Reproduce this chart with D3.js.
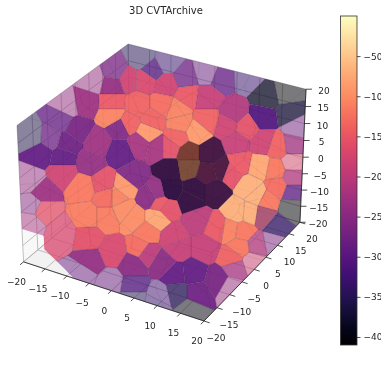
<!DOCTYPE html>
<html>
<head>
<meta charset="utf-8">
<script src="https://cdn.jsdelivr.net/npm/d3@7"></script>
<style>
html,body{margin:0;padding:0;background:#fff;overflow:hidden}
text{font-family:"DejaVu Sans",sans-serif;fill:#262626}
svg{filter:blur(0.4px)}
</style>
</head>
<body>
<svg id="chart" width="381" height="381"></svg>
<script>
// cube limits and ticks
const axisTicks = [-20,-15,-10,-5,0,5,10,15,20];
const barTicks = [-50,-100,-150,-200,-250,-300,-350,-400];
const objectiveRange = [-410,0];

// cells as seen along the view direction: position on the view plane, objective, cells stacked along the sight line
const cellU = [
 -3.6,-9,1.4,-1.6,-13.6,-15,-18.6,-25.6,-26,-24,
 -20,-16.6,-22,-18.4,-12.4,-8,-8,-14,-19.4,-4,
 -0.6,-5.4,-19.4,-23.4,-15.4,-11.4,-8.6,-7,-2,-3,
 1.4,-6.4,-9.4,-9.4,-4.6,0.6,-6.4,-1.4,-9.4,-2.4,
 4,3.4,2,5,9.4,12.4,17.4,21.4,25.4,26,
 20.6,14.6,9.4,5.4,9.4,7.4,3.4,13.4,17.4,15.4,
 20.6,23.6,26.6,27.4,2,5.6,10,5.6,9.6,12.4,
 7,2,11,14,16,20,18,23,26.6,26.6,
 23.4,26.6,26.4,23.4,20.6,18,15.4,21.4,19.4,14,
 16.6,11.4,7.4,1.4,2.6,9,3.4,16,14.4,19.4,
 22.6,18.6,15,14,11.6,6.6,3,7.4,3.4,6,
 0,0.6,-25.4,-26,-23.4,-19.6,-14.4,-14.6,-10.6,-10.6,
 -5.4,-0.6,-2.6,-4,-9.4,-14,-5.4,-2.6,-7.4,0,
 -0.6,-15.4,-10,-5.4,-5.4,-0.6,6
];
const cellV = [
 24.4,21.6,23.6,22,20,15.6,15,8.6,0,5.4,
 12,10,8.4,7.4,7.4,10.6,5.6,3.4,4.4,7.4,
 6.6,0.6,1.6,-2.6,-1.4,-0.6,-3.4,-1.4,-3.4,20,
 19,20,19,15.4,15,15,11.4,12,13,9.4,
 11.4,14,6.6,20.4,21.6,20.4,20.6,16.6,17.4,13.4,
 12.6,13.4,16.4,17,12,9.6,8.4,11,10.4,7.4,
 7.6,6.6,7,10.6,2,5.4,5.4,2.6,1.4,2,
 -2,-2,-2,1.4,3.4,2.6,-1.4,2,3.4,0.6,
 -1.4,-2.6,-5.4,-9.4,-7,-6.6,-6.4,-4,-3,-10,
 -10.4,-9.6,-8,-5.6,-11.4,-13.6,-13.6,-13.4,-15.6,-13,
 -12.4,-16.4,-17.6,-21.4,-20,-18.6,-19,-22.6,-22.6,-26,
 -23.4,-16.6,-5,-8.6,-6,-10.6,-11.4,-7.4,-7.4,-3.4,
 -7.6,-7.6,-10.6,-13.6,-14.4,-16.4,-17,-14.6,-6,-4.6,
 -2.6,-18.6,-20.6,-21.4,-23.4,-24.6,-4
];
const cellObjective = [
 -350,-270,-330,-310,-240,-230,-240,-360,-240,-290,
 -290,-270,-280,-280,-230,-260,-290,-240,-290,-220,
 -220,-260,-180,-230,-120,-160,-110,-90,-250,-170,
 -180,-180,-240,-150,-140,-130,-140,-140,-110,-90,
 -110,-110,-160,-280,-280,-290,-330,-380,-410,-370,
 -310,-210,-190,-150,-140,-90,-140,-180,-160,-190,
 -180,-140,-230,-270,-280,-120,-250,-90,-220,-230,
 -280,-290,-260,-160,-150,-80,-70,-120,-170,-210,
 -130,-300,-410,-340,-90,-70,-70,-120,-70,-110,
 -120,-150,-200,-160,-180,-190,-190,-120,-140,-210,
 -260,-180,-220,-230,-270,-290,-290,-280,-350,-400,
 -320,-250,-250,-220,-160,-170,-160,-115,-115,-130,
 -100,-80,-120,-130,-170,-240,-250,-200,-100,-150,
 -240,-280,-280,-310,-350,-330,-280
];
const cellDepth = [
 1,2,1,2,1,3,1,1,1,3,
 2,3,2,3,3,3,3,3,3,3,
 3,3,3,3,3,3,3,3,3,3,
 3,3,3,3,3,3,3,3,3,3,
 3,3,3,2,1,2,1,2,1,2,
 3,3,3,3,3,3,3,3,3,3,
 3,3,2,1,3,3,3,3,3,3,
 3,3,3,3,3,3,3,3,1,2,
 3,2,1,2,3,3,3,3,3,3,
 3,3,3,3,3,3,3,3,3,2,
 1,1,2,1,3,3,3,3,2,1,
 1,3,1,1,2,2,3,3,3,3,
 3,3,3,3,3,3,3,3,3,3,
 3,1,1,2,1,1,3
];
// dark cells in front of brighter ones (cell index, objective of the front cell)
const frontCell = [64,65,66,67,68,69,70,71,72,84,136];
const frontObjective = [-410,-410,-410,-410,-410,-410,-410,-410,-410,-290,-410];

// edge seeds of the cells further back, only their outlines show through
const backU = [-20,-12,-5,3,12,20,-17,-9,-1,7,16,24,-23,-13,-4,4,13,21,-18,-9,0,9,18,25,-22,-14,-6,2,11,20,-18,-10,-1,8,16,-12,-3,6,14,-4,3];
const backV = [16,18,21,20,19,15,11,14,17,13,14,10,6,8,9,11,6,4,1,3,5,-3,0,-3,-7,-5,-6,-3,-6,-8,-12,-11,-12,-10,-11,-17,-18,-17,-18,-24,-21];

// notch where corner cells are missing, on the y=-20 wall: [x, z]
const missingCorner = [[-20,-10],[-15,-10],[-15,-14],[-10.5,-18],[-8.5,-20]];

const svg = d3.select('#chart');

// same camera as mplot3d with elev 30, azim -60
const elev = 30*Math.PI/180, azim = -60*Math.PI/180, dist = 10;
const aspectK = 1.8294640721620434*25/24/Math.hypot(4,4,3);
const box = [4*aspectK,4*aspectK,3*aspectK];
const xScale = d3.scaleLinear().domain([-20,20]).range([0,box[0]]);
const yScale = d3.scaleLinear().domain([-20,20]).range([0,box[1]]);
const zScale = d3.scaleLinear().domain([-20,20]).range([0,box[2]]);
const R = box.map(d=>d/2);
const n = [Math.cos(elev)*Math.cos(azim),Math.cos(elev)*Math.sin(azim),Math.sin(elev)];
const E = [R[0]+dist*n[0],R[1]+dist*n[1],R[2]+dist*n[2]];
const cross = (a,b)=>[a[1]*b[2]-a[2]*b[1],a[2]*b[0]-a[0]*b[2],a[0]*b[1]-a[1]*b[0]];
const dot = (a,b)=>a[0]*b[0]+a[1]*b[1]+a[2]*b[2];
let uu = cross([0,0,1],n);
const uLen = Math.hypot(...uu);
uu = uu.map(d=>d/uLen);
const vv = cross(n,uu);
const camera = (x,y,z)=>{
	const p = [xScale(x)-E[0],yScale(y)-E[1],zScale(z)-E[2]];
	const w = -dot(n,p);
	return [dot(uu,p)/w,dot(vv,p)/w];
};
const screenX = d3.scaleLinear().domain([camera(-20,-20,20)[0],camera(20,20,20)[0]]).range([17,306]);
const screenY = d3.scaleLinear().domain([camera(-20,20,20)[1],camera(20,-20,-20)[1]]).range([44,321]);
const project = (x,y,z)=>{
	const c = camera(x,y,z);
	return [screenX(c[0]),screenY(c[1])];
};
const poly = pts=>'M'+pts.map(d=>project(...d).join(',')).join('L')+'Z';

// panes
const panes = [
	{pts:[[-20,-20,-20],[20,-20,-20],[20,20,-20],[-20,20,-20]],fill:'#f2f2f2'},
	{pts:[[-20,-20,-20],[-20,20,-20],[-20,20,20],[-20,-20,20]],fill:'#f8f8f8'},
	{pts:[[-20,20,-20],[20,20,-20],[20,20,20],[-20,20,20]],fill:'#f5f5f5'}
];
svg.selectAll('.pane').data(panes).enter().append('path')
	.attr('class','pane')
	.attr('d',d=>poly(d.pts))
	.attr('fill',d=>d.fill);

// grid lines on the panes
const gridLines = [];
axisTicks.forEach(t=>{
	gridLines.push([[t,-20,-20],[t,20,-20],[t,20,20]]);
	gridLines.push([[-20,t,20],[-20,t,-20],[20,t,-20]]);
	gridLines.push([[-20,-20,t],[-20,20,t],[20,20,t]]);
});
svg.selectAll('.grid').data(gridLines).enter().append('path')
	.attr('class','grid')
	.attr('d',d=>'M'+d.map(p=>project(...p).join(',')).join('L'))
	.attr('fill','none')
	.attr('stroke','#b0b0b0')
	.attr('stroke-width',0.8);

// silhouette of the filled cube
const outline = [[-8.5,-20,-20],[20,-20,-20],[20,20,-20],[20,20,20],[-20,20,20],[-20,-20,20]]
	.concat(missingCorner.map(d=>[d[0],-20,d[1]]));
const defs = svg.append('defs');
defs.append('clipPath').attr('id','cube').append('path').attr('d',poly(outline));

const planeU = d3.scaleLinear().domain([-30,30]).range([10,310]);
const planeV = d3.scaleLinear().domain([-30,30]).range([330,30]);
const color = d3.scaleSequential(d3.interpolateMagma).domain(objectiveRange);
const depthAlpha = d3.scaleOrdinal().domain([1,2,3]).range([0.5,0.75,0.92]);

const cells = cellU.map((u,i)=>({u,v:cellV[i],obj:cellObjective[i],depth:cellDepth[i]}));
const voronoi = d3.Delaunay.from(cells,d=>planeU(d.u),d=>planeV(d.v)).voronoi([0,0,381,381]);
const backVoronoi = d3.Delaunay.from(backU.map((u,i)=>[planeU(u),planeV(backV[i])])).voronoi([0,0,381,381]);

const g = svg.append('g').attr('clip-path','url(#cube)');
g.selectAll('.cell').data(cells).enter().append('path')
	.attr('class','cell')
	.attr('d',(d,i)=>voronoi.renderCell(i))
	.attr('fill',d=>color(d.obj))
	.attr('fill-opacity',d=>depthAlpha(d.depth))
	.attr('stroke','#2a1a30')
	.attr('stroke-opacity',0.22)
	.attr('stroke-width',0.6);
g.selectAll('.front').data(frontCell).enter().append('path')
	.attr('class','front')
	.attr('d',d=>voronoi.renderCell(d))
	.attr('fill',(d,i)=>color(frontObjective[i]))
	.attr('fill-opacity',0.5);
g.append('path')
	.attr('d',backVoronoi.render())
	.attr('fill','none')
	.attr('stroke','#2a1a30')
	.attr('stroke-opacity',0.12)
	.attr('stroke-width',0.6);

// axis edges, ticks and labels
const edges = [
	[[-20,-20,-20],[20,-20,-20]],
	[[20,-20,-20],[20,20,-20]],
	[[20,20,-20],[20,20,20]]
];
svg.selectAll('.edge').data(edges).enter().append('path')
	.attr('class','edge')
	.attr('d',d=>'M'+d.map(p=>project(...p).join(',')).join('L'))
	.attr('stroke','#222')
	.attr('stroke-width',0.8);

const fmt = d3.format('d');
const axes3d = [
	{pos:t=>[t,-20,-20],out:t=>[t,-21.2,-20],dx:-7,dy:20},
	{pos:t=>[20,t,-20],out:t=>[21.2,t,-20],dx:12,dy:17},
	{pos:t=>[20,20,t],out:t=>[21,20.6,t],dx:18,dy:2}
];
axes3d.forEach(ax=>{
	svg.selectAll(null).data(axisTicks).enter().append('path')
		.attr('d',t=>'M'+project(...ax.pos(t)).join(',')+'L'+project(...ax.out(t)).join(','))
		.attr('stroke','#222')
		.attr('stroke-width',0.8);
	svg.selectAll(null).data(axisTicks).enter().append('text')
		.attr('x',t=>project(...ax.pos(t))[0]+ax.dx)
		.attr('y',t=>project(...ax.pos(t))[1]+ax.dy)
		.attr('text-anchor','middle')
		.attr('dominant-baseline','central')
		.attr('font-size',9)
		.text(fmt);
});

svg.append('text')
	.attr('x',166)
	.attr('y',14)
	.attr('text-anchor','middle')
	.attr('font-size',10)
	.text('3D CVTArchive');

// colorbar
const barY = d3.scaleLinear().domain(objectiveRange).range([345,16]);
const gradient = defs.append('linearGradient').attr('id','barFill')
	.attr('x1',0).attr('x2',0).attr('y1',1).attr('y2',0);
gradient.selectAll('stop').data(d3.range(0,1.001,0.05)).enter().append('stop')
	.attr('offset',d=>d)
	.attr('stop-color',d=>d3.interpolateMagma(d));
svg.append('rect')
	.attr('x',340.5).attr('y',16).attr('width',16.5).attr('height',329)
	.attr('fill','url(#barFill)').attr('stroke','#333').attr('stroke-width',0.8);
const barAxis = svg.append('g')
	.attr('transform','translate(357,0)')
	.call(d3.axisRight(barY).tickValues(barTicks).tickSize(3.5).tickPadding(3));
barAxis.select('.domain').remove();
barAxis.selectAll('text').attr('font-size',9).attr('font-family','"DejaVu Sans",sans-serif').attr('fill','#262626');
barAxis.selectAll('line').attr('stroke','#222').attr('stroke-width',0.8);
</script>
</body>
</html>
